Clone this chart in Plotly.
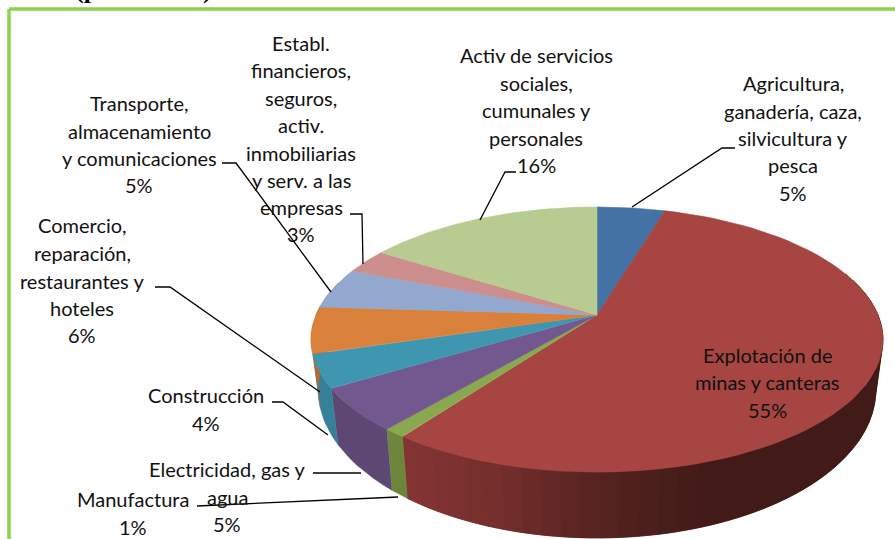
import numpy as np
import plotly.graph_objects as go

# ---- data ----
categories = ["Agricultura, ganadería, caza, silvicultura y pesca",
              "Explotación de minas y canteras", "Manufactura",
              "Electricidad, gas y agua", "Construcción",
              "Comercio, reparación, restaurantes y hoteles",
              "Transporte, almacenamiento y comunicaciones",
              "Establ. financieros, seguros, activ. inmobiliarias y serv. a las empresas",
              "Activ de servicios sociales, cumunales y personales"]
values = [4.6, 55.4, 1.1, 5.2, 4.0, 5.7, 5.0, 3.0, 16.0]

# ---- style ----
top_colors = ["#4472A4", "#A64541", "#8AA84F", "#72588F", "#3F96B0",
              "#D9813A", "#92A8CF", "#CD8F8E", "#B8CC91"]
wall_colors = ["#3A6090", None, "#6D863C", "#5C4872", "#36809A",
               "#B5692E", "#7A8DAF", "#AD7877", "#9BAC7A"]
red_wall_x = [400, 500, 600, 700, 890]
red_wall_rgb = [(0x84, 0x35, 0x34), (0x74, 0x2F, 0x2D), (0x56, 0x23, 0x20),
                (0x43, 0x1C, 0x19), (0x41, 0x1B, 0x18)]
FONT = "Lato"
FS = 20

# projection of the circular pie on the page
CX, CY, D, A, C = 597.0, 315.0, 281.0, 128.0, -0.185
SX, SY, OY = 0.975, 1.118, 47.4


def top_xy(deg):
    t = np.radians(deg)
    X, Y = np.sin(t), -np.cos(t)
    den = 1 + C * Y
    return D * X / den, A * Y / den


def bottom_xy(deg):
    x, u = top_xy(deg)
    return x * SX, u * SY + OY


fig = go.Figure()


def poly(xs, ys, color):
    fig.add_trace(go.Scatter(x=xs, y=ys, mode="lines", fill="toself", fillcolor=color,
                             line=dict(color=color, width=0.6), hoverinfo="skip",
                             showlegend=False))


def red_color(px):
    r = [np.interp(px, red_wall_x, [c[i] for c in red_wall_rgb]) for i in range(3)]
    return "rgb(%d,%d,%d)" % tuple(int(v) for v in r)


fr = np.cumsum([0] + values) / sum(values) * 360.0
# side walls
for i in range(len(values)):
    a0, a1 = fr[i], fr[i + 1]
    lo, hi = max(a0, 70), min(a1, 285)
    if lo >= hi:
        continue
    n = 44 if wall_colors[i] is None else 1
    edges = np.linspace(lo, hi, n + 1)
    step = edges[1] - edges[0]
    for e0, e1 in zip(edges[:-1], edges[1:]):
        # each band overlaps the next one so that no seam shows between them
        ts = np.linspace(e0, min(e1 + (step if n > 1 else 0), hi), 8)
        tx, tu = top_xy(ts)
        bx, bu = bottom_xy(ts)
        xs = np.r_[tx, bx[::-1]] + CX
        ys = np.r_[tu, bu[::-1]] + CY
        col = wall_colors[i] or red_color(CX + top_xy((e0 + e1) / 2)[0])
        poly(xs.tolist(), ys.tolist(), col)

# top surface
for i in range(len(values)):
    ts = np.linspace(fr[i], fr[i + 1], 80)
    tx, tu = top_xy(ts)
    poly((np.r_[0, tx, 0] + CX).tolist(), (np.r_[0, tu, 0] + CY).tolist(), top_colors[i])

# leader lines
leaders = [
    [(632, 207), (722, 148), (735, 148)],
    [(480, 220), (505, 172), (516, 172)],
    [(363, 264), (362, 214), (350, 214)],
    [(331, 292), (236, 163), (222, 163)],
    [(320, 392), (170, 287), (155, 287)],
    [(328, 435), (283, 402), (272, 402)],
    [(361, 473), (313, 473)],
    [(398, 497), (197, 506)],
]
for pts in leaders:
    fig.add_trace(go.Scatter(x=[p[0] for p in pts], y=[p[1] for p in pts], mode="lines",
                             line=dict(color="#000000", width=1.3), hoverinfo="skip",
                             showlegend=False))


def pct(i):
    return "%d%%" % round(values[i] / sum(values) * 100)


# label blocks: centre x, y of each line, texts
blocks = [
    (793, [83, 111, 138, 165, 193], ["Agricultura,", "ganadería, caza,", "silvicultura y", "pesca", pct(0)]),
    (767, [355, 382, 410], ["Explotación de", "minas y canteras", pct(1)]),
    (133, [499, 527], ["Manufactura", pct(2)]),
    (227, [469, 497, 524], ["Electricidad, gas y", "agua", pct(3)]),
    (206, [395, 423], ["Construcción", pct(4)]),
    (82, [225, 253, 281, 308, 335], ["Comercio,", "reparación,", "restaurantes y", "hoteles", pct(5)]),
    (139, [103, 131, 158, 185], ["Transporte,", "almacenamiento", "y comunicaciones", pct(6)]),
    (301, [43, 70, 98, 125, 153, 180, 207, 234],
     ["Establ.", "financieros,", "seguros,", "activ.", "inmobiliarias", "y serv. a las", "empresas", pct(7)]),
    (536, [55, 83, 110, 138, 165], ["Activ de servicios", "sociales,", "cumunales y", "personales", pct(8)]),
]
annotations = []
for cx, ys, texts in blocks:
    for y, t in zip(ys, texts):
        annotations.append(dict(x=cx, y=y, xref="x", yref="y", text=t, showarrow=False,
                                xanchor="center", yanchor="middle",
                                font=dict(family=FONT, size=FS, color="#111111")))
# clipped title fragment at the very top of the page
annotations.append(dict(x=143, y=0, xref="x", yref="y", text="<b>(porcentual)</b>", showarrow=False,
                        xanchor="center", yanchor="bottom", yshift=-6,
                        font=dict(family="Liberation Serif", size=26, color="#000000")))

shapes = [
    dict(type="line", xref="x", yref="y", x0=9, x1=895, y0=9, y1=9,
         line=dict(color="#8FCF52", width=3.5)),
    dict(type="line", xref="x", yref="y", x0=9, x1=9, y0=9, y1=539,
         line=dict(color="#8FCF52", width=3.5)),
]

fig.update_layout(
    width=895, height=539, margin=dict(l=0, r=0, t=0, b=0),
    paper_bgcolor="white", plot_bgcolor="white", showlegend=False,
    xaxis=dict(range=[0, 895], visible=False, fixedrange=True),
    yaxis=dict(range=[539, 0], visible=False, fixedrange=True),
    annotations=annotations, shapes=shapes,
)
fig.write_html("out.html", config=dict(displayModeBar=False),
               post_script="document.body.style.margin='0';document.body.style.overflow='hidden';")
